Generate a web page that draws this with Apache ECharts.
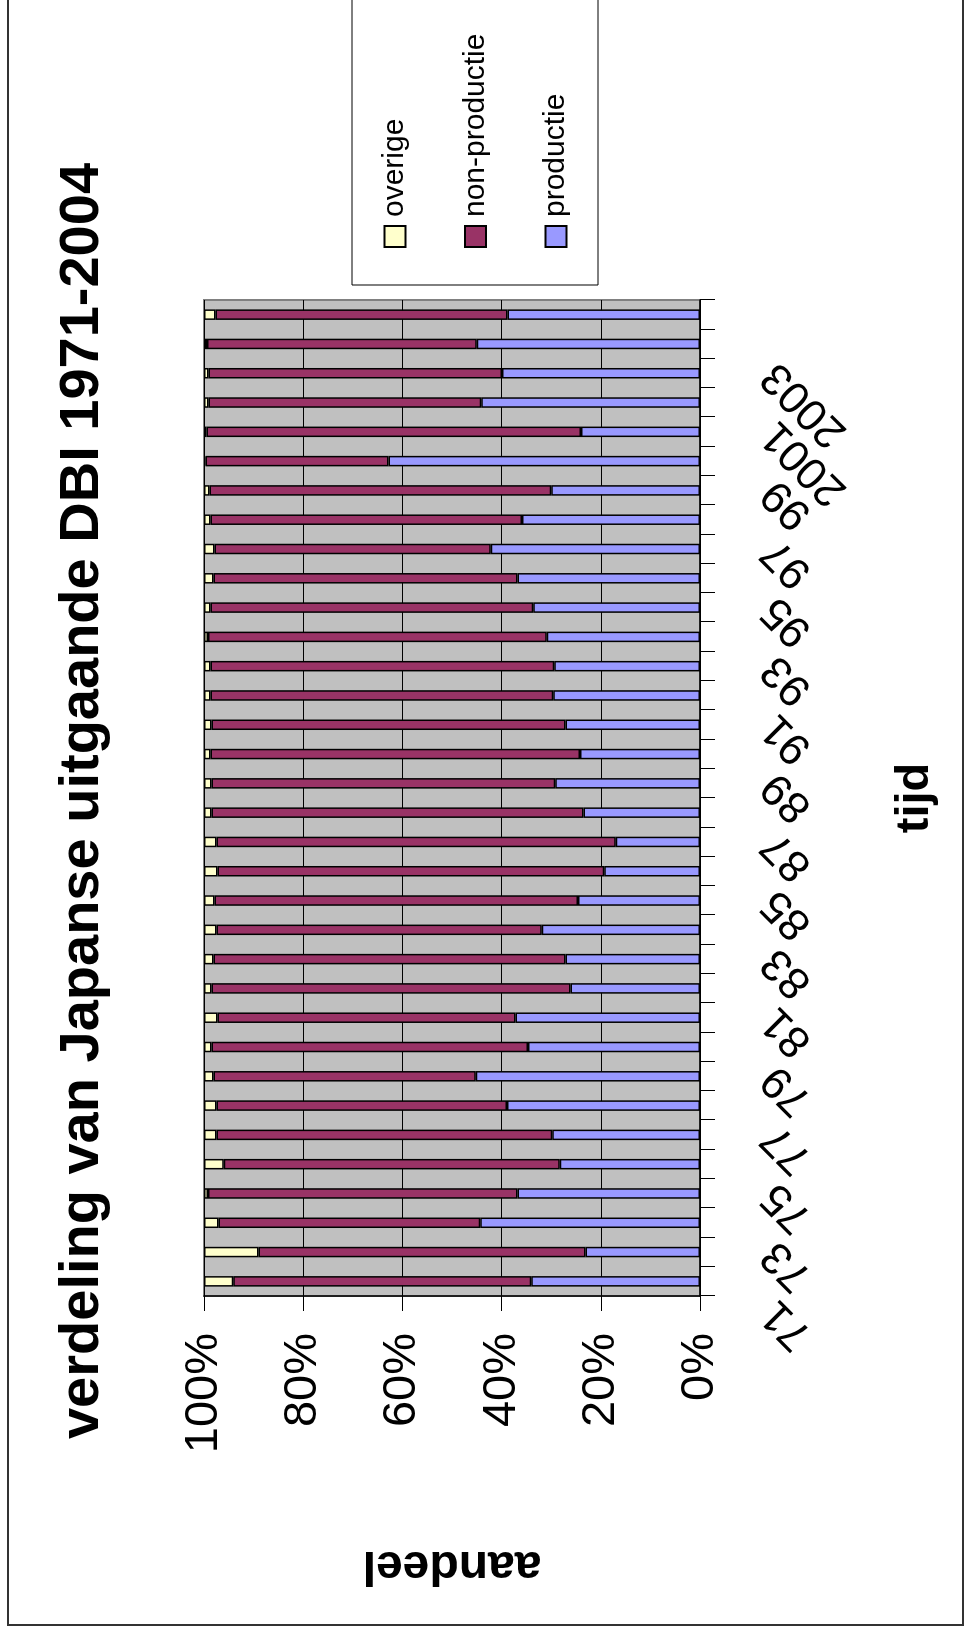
<!DOCTYPE html>
<html>
<head>
<meta charset="utf-8">
<script src="https://cdn.jsdelivr.net/npm/echarts@6/dist/echarts.min.js"></script>
<style>
html,body{margin:0;padding:0;background:#fff;}
#wrap{position:absolute;left:0;top:0;width:970px;height:1634px;overflow:hidden;background:#fff;}
#chart{position:absolute;left:0;top:0;width:1634px;height:970px;transform-origin:0 0;transform:translate(0px,1634px) rotate(-90deg);}
</style>
</head>
<body>
<div id="wrap"><div id="chart"></div></div>
<script>
// ---- data (percent shares) ----
const years = ['1971','1972','1973','1974','1975','1976','1977','1978','1979','1980',
  '1981','1982','1983','1984','1985','1986','1987','1988','1989','1990',
  '1991','1992','1993','1994','1995','1996','1997','1998','1999','2000',
  '2001','2002','2003','2004'];
const productie = [34.0,23.1,44.3,36.8,28.3,29.8,38.9,45.2,34.7,37.2,
  26.1,27.1,31.9,24.6,19.3,17.0,23.5,29.2,24.2,27.1,
  29.6,29.4,30.9,33.6,36.8,42.2,35.9,30.0,62.8,24.0,
  44.1,39.9,45.0,38.8];
const nonProductie = [60.1,65.9,52.8,62.4,67.7,67.7,58.6,52.9,63.8,60.1,
  72.4,71.0,65.6,73.3,78.0,80.5,75.0,69.3,74.5,71.4,
  69.1,69.3,68.3,65.1,61.3,55.7,62.8,68.9,36.9,75.5,
  55.0,59.2,54.4,58.9];
const overige = [5.9,11.0,2.9,0.8,4.0,2.5,2.5,1.9,1.5,2.7,
  1.5,1.9,2.5,2.1,2.7,2.5,1.5,1.5,1.3,1.5,
  1.3,1.3,0.8,1.3,1.9,2.1,1.3,1.1,0.3,0.5,
  0.9,0.9,0.6,2.3];
const valueTicks = [0,20,40,60,80,100];
const seriesNames = ['overige','non-productie','productie'];

const FONT = '"Liberation Sans", Arial, Helvetica, sans-serif';
const chart = echarts.init(document.getElementById('chart'), null, {width:1634, height:970, renderer:'canvas'});

function yearLabel(v, idx){
  if (idx % 2 !== 0) return '';
  return Number(v) < 2000 ? v.slice(2) : v;
}

chart.setOption({
  animation:false,
  backgroundColor:'#ffffff',
  textStyle:{fontFamily:FONT, color:'#000'},
  title:{
    text:'verdeling van Japanse uitgaande DBI 1971-2004',
    left:828, top:50, textAlign:'center',
    textStyle:{fontFamily:FONT, fontSize:56, fontWeight:'bold', color:'#000'}
  },
  graphic:[
    {type:'rect', z:-10, silent:true, shape:{x:9, y:8, width:2000, height:955},
     style:{fill:'#fff', stroke:'#333', lineWidth:2}},
    {type:'rect', z:-5, silent:true, shape:{x:1349, y:352, width:400, height:246},
     style:{fill:'#fff', stroke:'#000', lineWidth:1}}
  ],
  legend:{
    data:seriesNames, orient:'vertical', left:1381, top:375,
    itemWidth:21, itemHeight:21, itemGap:50.5,
    icon:'rect',
    textStyle:{fontFamily:FONT, fontSize:30, lineHeight:30, color:'#000', padding:[0,0,0,4]},
    selectedMode:false
  },
  grid:{left:338, right:300, top:204, bottom:270, containLabel:false, outerBoundsMode:'none',
        show:true, backgroundColor:'#C0C0C0', borderColor:'#808080', borderWidth:2},
  xAxis:{
    type:'category', data:years, boundaryGap:true,
    name:'tijd', nameLocation:'middle', nameGap:192,
    nameTextStyle:{fontFamily:FONT, fontSize:47, fontWeight:'bold', color:'#000'},
    axisLine:{show:true, lineStyle:{color:'#000', width:1.5}},
    axisTick:{show:true, interval:0, length:15, lineStyle:{color:'#000', width:1}},
    axisLabel:{interval:0, rotate:45, fontFamily:FONT, fontSize:44.5, color:'#000', margin:44,
      padding:[0,36,0,0], hideOverlap:false,
      formatter:yearLabel},
    splitLine:{show:false}
  },
  yAxis:{
    type:'value', min:valueTicks[0], max:valueTicks[valueTicks.length-1], interval:20,
    name:'aandeel', nameLocation:'middle', nameGap:245,
    nameTextStyle:{fontFamily:FONT, fontSize:48, fontWeight:'bold', color:'#000'},
    axisLine:{show:true, lineStyle:{color:'#000', width:1.5}},
    axisTick:{show:true, length:15, lineStyle:{color:'#000', width:1}},
    axisLabel:{formatter:'{value}%', fontFamily:FONT, fontSize:47, color:'#000', margin:37},
    splitLine:{show:true, lineStyle:{color:'#000', width:1}}
  },
  series:[
    {name:'productie', type:'bar', stack:'total', barWidth:10.5, data:productie,
     itemStyle:{color:'#9999FF', borderColor:'#000', borderWidth:1.5}, emphasis:{disabled:true}},
    {name:'non-productie', type:'bar', stack:'total', barWidth:10.5, data:nonProductie,
     itemStyle:{color:'#993366', borderColor:'#000', borderWidth:1.5}, emphasis:{disabled:true}},
    {name:'overige', type:'bar', stack:'total', barWidth:10.5, data:overige,
     itemStyle:{color:'#FFFFCC', borderColor:'#000', borderWidth:1.5}, emphasis:{disabled:true}}
  ]
});
</script>
</body>
</html>
